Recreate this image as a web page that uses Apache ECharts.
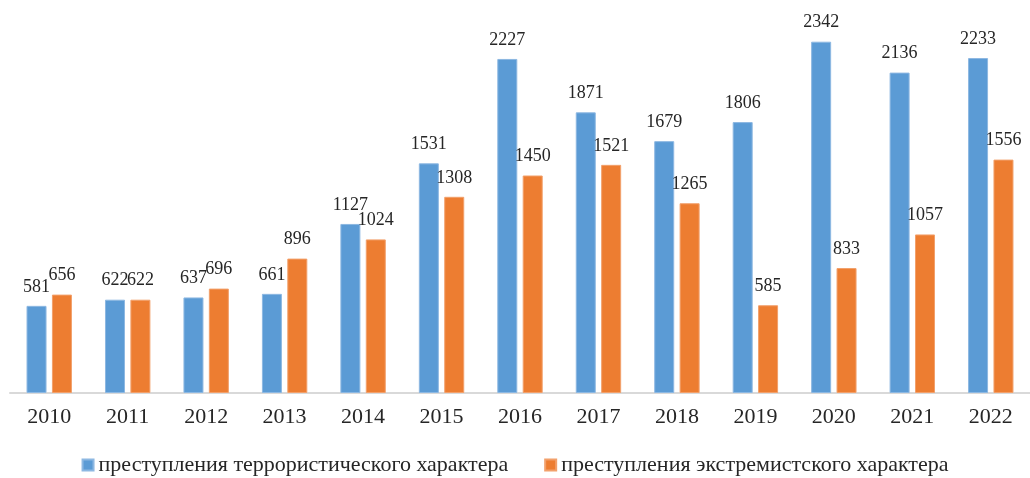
<!DOCTYPE html>
<html>
<head>
<meta charset="utf-8">
<script src="https://cdn.jsdelivr.net/npm/echarts@6/dist/echarts.min.js"></script>
<style>
  html, body { margin: 0; padding: 0; background: #fff; }
  #chart { width: 1030px; height: 478px; }
</style>
</head>
<body>
<div id="chart"></div>
<script>
const years = ['2010', '2011', '2012', '2013', '2014', '2015', '2016', '2017', '2018', '2019', '2020', '2021', '2022']
const terrorNames = 'преступления террористического характера'
const extremNames = 'преступления экстремистского характера'
const terrorData = [581, 622, 637, 661, 1127, 1531, 2227, 1871, 1679, 1806, 2342, 2136, 2233]
const extremData = [656, 622, 696, 896, 1024, 1308, 1450, 1521, 1265, 585, 833, 1057, 1556]

const font = '"Liberation Serif", "Times New Roman", serif'

const labelStyle = {
  show: true,
  position: 'top',
  distance: 10,
  color: '#262626',
  fontFamily: font,
  fontSize: 18
}

const myChart = echarts.init(document.getElementById('chart'))
myChart.setOption({
  animation: false,
  legend: {
    data: [terrorNames, extremNames],
    top: 449,
    left: 'center',
    itemWidth: 11,
    itemHeight: 11,
    itemGap: 36,
    icon: 'rect',
    textStyle: {
      color: '#262626',
      fontFamily: font,
      fontSize: 22
    }
  },
  grid: {
    left: 10,
    right: -7,
    top: 18,
    bottom: 85
  },
  xAxis: {
    type: 'category',
    data: years,
    axisLine: { lineStyle: { color: '#D9D9D9', width: 2 } },
    axisTick: { show: false },
    axisLabel: {
      color: '#262626',
      fontFamily: font,
      fontSize: 22,
      margin: 13
    }
  },
  yAxis: {
    type: 'value',
    min: 0,
    max: 2500,
    show: false,
    splitLine: { show: false }
  },
  series: [
    {
      name: terrorNames,
      type: 'bar',
      barWidth: 20,
      barGap: '27%',
      itemStyle: { color: '#5B9BD5', borderColor: '#8DB8E2', borderWidth: 1 },
      label: labelStyle,
      data: terrorData
    },
    {
      name: extremNames,
      type: 'bar',
      barWidth: 20,
      itemStyle: { color: '#ED7D31', borderColor: '#F2A06B', borderWidth: 1 },
      label: labelStyle,
      data: extremData
    }
  ]
})
</script>
</body>
</html>
